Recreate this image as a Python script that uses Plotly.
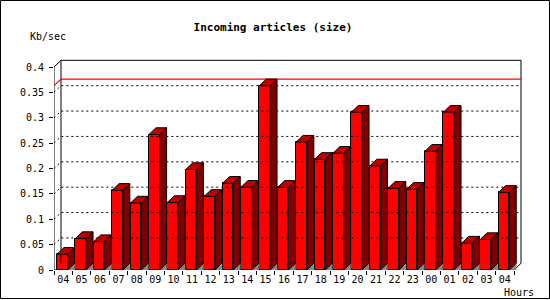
import plotly.graph_objects as go

# ---- data ----
hours = ["04", "05", "06", "07", "08", "09", "10", "11", "12", "13", "14", "15", "16",
         "17", "18", "19", "20", "21", "22", "23", "00", "01", "02", "03", "04"]
kbps = [0.031, 0.062, 0.056, 0.157, 0.132, 0.267, 0.133, 0.198, 0.145, 0.171, 0.163, 0.363,
        0.163, 0.252, 0.218, 0.230, 0.311, 0.205, 0.161, 0.159, 0.234, 0.311, 0.053, 0.060, 0.153]
y_ticks = [0, 0.05, 0.1, 0.15, 0.2, 0.25, 0.3, 0.35, 0.4]
y_tick_text = ["0", "0.05", "0.1", "0.15", "0.2", "0.25", "0.3", "0.35", "0.4"]
title_text = "Incoming articles (size)"
y_unit = "Kb/sec"
x_unit = "Hours"

# ---- geometry (3D depth in axis units) ----
W, H = 550, 300
PX_X0, UNIT_X = 54.0, 18.4      # px of x=-0.5, px per category
PX_Y0, UNIT_Y = 270.0, 507.5    # px of y=0, px per unit
DX = 7.0 / UNIT_X
DY = 6.7 / UNIT_Y
BAR_SHIFT, BAR_W = -0.05, 0.58
n = len(kbps)
x_left, x_right = -0.5, n - 0.5
xr_px, yt_px = 524.0, 57.0
x_range = [x_left, x_left + (xr_px - PX_X0) / UNIT_X]
y_range = [0, (PX_Y0 - yt_px) / UNIT_Y]
ymax_grid = y_ticks[-1]

fig = go.Figure()

# grid lines on back wall (dotted) with connectors to front axis
gx, gy = [], []
for v in y_ticks[1:-1]:
    gx += [x_left, x_left + DX, x_right + DX, None]
    gy += [v, v + DY, v + DY, None]
fig.add_trace(go.Scatter(x=gx, y=gy, mode="lines", line=dict(color="black", width=1, dash="2px,3px"),
                         hoverinfo="skip", showlegend=False))

# back wall frame
fx = [x_left + DX, x_left + DX, None, x_left, x_left, x_left + DX, x_right + DX, x_right + DX, x_right, x_left]
fy = [DY, ymax_grid + DY, None, 0, ymax_grid, ymax_grid + DY, ymax_grid + DY, DY, 0, 0]
fig.add_trace(go.Scatter(x=fx, y=fy, mode="lines", line=dict(color="black", width=1),
                         hoverinfo="skip", showlegend=False))

# max line
vmax = max(kbps)
fig.add_trace(go.Scatter(x=[x_left, x_left + DX, x_right + DX], y=[vmax, vmax + DY, vmax + DY],
                         mode="lines", line=dict(color="#ff0000", width=1.2), hoverinfo="skip", showlegend=False))

# 3D faces
sx, sy, tx, ty, shx, shy = [], [], [], [], [], []
for i, v in enumerate(kbps):
    l = i + BAR_SHIFT - BAR_W / 2
    r = i + BAR_SHIFT + BAR_W / 2
    shx += [r, r + DX, r + DX, r, None]
    shy += [0, DY, 0, 0, None]
    sx += [r, r, r + DX, r + DX, r, None]
    sy += [0, v, v + DY, DY, 0, None]
    tx += [l, r, r + DX, l + DX, l, None]
    ty += [v, v, v + DY, v + DY, v, None]

fig.add_trace(go.Scatter(x=shx, y=shy, mode="lines", fill="toself", fillcolor="#888888",
                         line=dict(color="#888888", width=0.5), hoverinfo="skip", showlegend=False))
fig.add_trace(go.Scatter(x=sx, y=sy, mode="lines", fill="toself", fillcolor="#800000",
                         line=dict(color="black", width=1), hoverinfo="skip", showlegend=False))
fig.add_trace(go.Scatter(x=tx, y=ty, mode="lines", fill="toself", fillcolor="#c00000",
                         line=dict(color="black", width=1), hoverinfo="skip", showlegend=False))
fig.add_trace(go.Bar(x=[i + BAR_SHIFT for i in range(n)], y=kbps, width=BAR_W,
                     marker=dict(color="#ff0000", line=dict(color="black", width=1)),
                     hoverinfo="skip", showlegend=False))

mono = "DejaVu Sans Mono"
fig.update_layout(
    width=W, height=H,
    margin=dict(l=0, r=0, t=0, b=0, autoexpand=False),
    paper_bgcolor="white", plot_bgcolor="rgba(0,0,0,0)",
    font=dict(family=mono, size=10, color="black"),
    bargap=0,
    title=dict(text=title_text, x=273 / W, y=1 - 27 / H, xanchor="center", yanchor="middle",
               font=dict(family=mono, size=11, color="black", weight="bold")),
    xaxis=dict(domain=[PX_X0 / W, xr_px / W], range=x_range, showgrid=False, zeroline=False,
               showline=False, automargin=False, tickmode="array", tickvals=list(range(n)), ticktext=hours,
               ticks="", ticklabelstandoff=2,
               minor=dict(tickmode="array", tickvals=[k - 0.5 for k in range(n + 1)],
                          ticks="outside", ticklen=4, tickcolor="black", tickwidth=1, showgrid=False),
               tickfont=dict(family=mono, size=10, color="black"), fixedrange=True),
    yaxis=dict(domain=[1 - PX_Y0 / H, 1 - yt_px / H], range=y_range, showgrid=False, zeroline=False,
               showline=False, automargin=False, tickmode="array", tickvals=y_ticks, ticktext=y_tick_text,
               ticks="outside", ticklen=4, tickcolor="black", tickwidth=1, ticklabelstandoff=3,
               tickfont=dict(family=mono, size=10, color="black"), fixedrange=True),
    annotations=[
        dict(text=y_unit, xref="paper", yref="paper", x=47.5 / W, y=1 - 36.7 / H,
             xanchor="center", yanchor="middle", showarrow=False,
             font=dict(family=mono, size=10, color="black")),
        dict(text=x_unit, xref="paper", yref="paper", x=519 / W, y=1 - 292 / H,
             xanchor="center", yanchor="middle", showarrow=False,
             font=dict(family=mono, size=10, color="black")),
    ],
    shapes=[
        dict(type="rect", xref="paper", yref="paper", x0=0.5 / W, x1=549.5 / W,
             y0=1 - 0.5 / H, y1=1 - 298.5 / H, line=dict(color="black", width=1)),
    ],
)

fig.write_html("out.html")
